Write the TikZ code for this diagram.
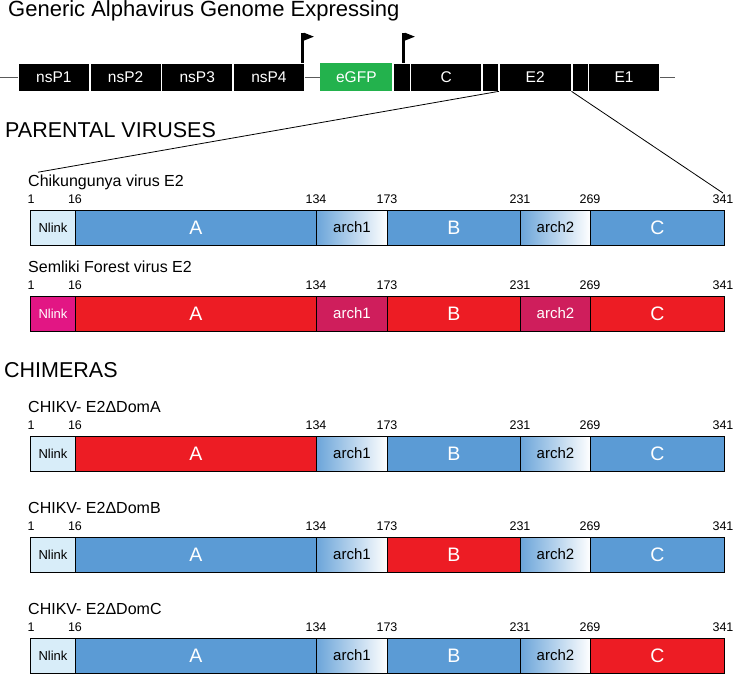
\documentclass[tikz,border=0pt]{standalone}
\usepackage{fontspec}
\setmainfont{Liberation Sans}
\usetikzlibrary{positioning}
\definecolor{chikblue}{RGB}{91,155,213}
\definecolor{chiklight}{RGB}{216,237,249}
\definecolor{sfvred}{RGB}{237,28,36}
\definecolor{sfvmagenta}{RGB}{226,22,132}
\definecolor{sfvcrimson}{RGB}{207,30,92}
\definecolor{gfpgreen}{RGB}{35,178,77}
\definecolor{backbone}{RGB}{90,90,90}

\begin{document}
\begin{tikzpicture}[x=1pt,y=-1pt,gene/.style={fill=black,draw=white,line width=0.7pt,minimum height=28pt,inner sep=0pt,anchor=west,text=white,font=\fontsize{15.5}{16}\selectfont},seg/.style={draw=black,line width=0.9pt,minimum height=35pt,inner sep=0pt,anchor=west,font=\fontsize{15}{16}\selectfont},chiknl/.style={fill=chiklight,font=\fontsize{13}{14}\selectfont},sfvnl/.style={fill=sfvmagenta,text=white,font=\fontsize{13}{14}\selectfont},chikdom/.style={fill=chikblue,text=white,font=\fontsize{19.5}{20}\selectfont},sfvdom/.style={fill=sfvred,text=white,font=\fontsize{19.5}{20}\selectfont},chikarch/.style={left color=chikblue!90!white,right color=white},sfvarch/.style={fill=sfvcrimson,text=white},num/.style={anchor=base,inner sep=1pt,font=\fontsize{12.5}{13}\selectfont},lab/.style={anchor=base west,inner sep=0pt,font=\fontsize{16}{16}\selectfont},head/.style={anchor=base west,inner sep=0pt,font=\fontsize{21.5}{22}\selectfont},flagpole/.style={line width=3.2pt},zoomline/.style={draw=black,line width=0.8pt}]
\useasboundingbox (0,0) rectangle (733,674);
\node[head,font=\fontsize{22}{24}\selectfont] (title) at (8,17) {Generic Alphavirus Genome Expressing};
% genome
\coordinate (g0) at (0,77);
\coordinate (g1) at (675,77);
\node[gene,minimum width=71pt] (nsp1) at (18,77) {nsP1};
\node[gene,minimum width=71pt] (nsp2) at (nsp1.east) {nsP2};
\node[gene,minimum width=71pt] (nsp3) at (nsp2.east) {nsP3};
\node[gene,minimum width=71pt] (nsp4) at (nsp3.east) {nsP4};
\node[gene,fill=gfpgreen,draw=none,minimum width=72pt] (gfp) at (320,77) {eGFP};
\node[gene,minimum width=17pt] (sp0) at (gfp.east) {};
\node[gene,minimum width=71pt] (c) at (sp0.east) {C};
\node[gene,minimum width=16pt] (sp1) at (c.east) {};
\node[gene,minimum width=72pt] (e2) at (sp1.east) {E2};
\node[gene,minimum width=16pt] (sp2) at (e2.east) {};
\node[gene,minimum width=71pt] (e1) at (sp2.east) {E1};
\draw[backbone,line width=0.8pt] (g0) -- (nsp1) (nsp4) -- (gfp) (e1) -- (g1);
\draw[flagpole] ([xshift=-2.2pt]nsp4.north east) -- ++(0,-30);
\fill ([xshift=-1pt,yshift=30pt]nsp4.north east) -- ++(10,4) -- ++(-10,4) -- cycle;
\draw[flagpole] ([xshift=2pt]sp0.north) -- ++(0,-30);
\fill ([xshift=3.2pt,yshift=30pt]sp0.north) -- ++(10,4) -- ++(-10,4) -- cycle;
\node[head] (parental) at (5,137) {PARENTAL VIRUSES};
\node[head] (chimeras) at (4,377) {CHIMERAS};
% E2 domain maps
\foreach \row/\yy/\lab/\nl/\sa/\sb/\sc/\ar in {chik/210/Chikungunya virus E2/chiknl/chikdom/chikdom/chikdom/chikarch,sfv/296/Semliki Forest virus E2/sfvnl/sfvdom/sfvdom/sfvdom/sfvarch,doma/436/CHIKV- E2ΔDomA/chiknl/sfvdom/chikdom/chikdom/chikarch,domb/537/CHIKV- E2ΔDomB/chiknl/chikdom/sfvdom/chikdom/chikarch,domc/638/CHIKV- E2ΔDomC/chiknl/chikdom/chikdom/sfvdom/chikarch}{
\node[lab] (\row-lab) at (28,\yy-24) {\lab};
\node[seg,\nl,minimum width=45pt] (\row-nlink) at (30,\yy+17.5) {Nlink};
\node[seg,\sa,minimum width=241pt] (\row-a) at (75,\yy+17.5) {A};
\node[seg,\ar,minimum width=71pt] (\row-arch1) at (316,\yy+17.5) {arch1};
\node[seg,\sb,minimum width=133pt] (\row-b) at (387,\yy+17.5) {B};
\node[seg,\ar,minimum width=70pt] (\row-arch2) at (520,\yy+17.5) {arch2};
\node[seg,\sc,minimum width=134pt] (\row-c) at (590,\yy+17.5) {C};
\foreach \n/\x in {1/31,16/75,134/316,173/387,231/520,269/590,341/723}{\node[num] (\row-n\n) at (\x,\yy-7) {\n};}
}
\draw[zoomline] (e2.south west) -- ([xshift=10pt,yshift=2pt]chik-lab.north west);
\draw[zoomline] (e2.south east) -- (chik-n341.north);
\end{tikzpicture}
\end{document}
